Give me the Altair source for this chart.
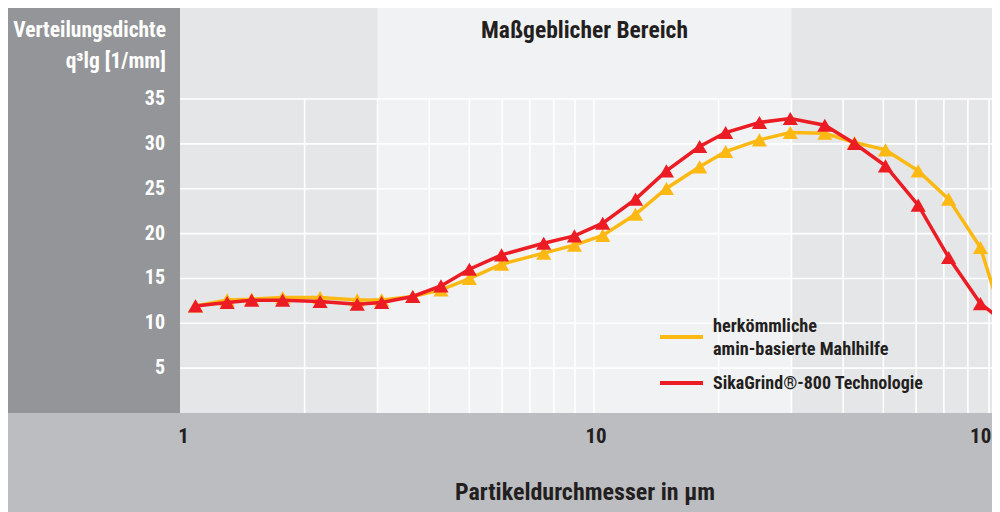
import altair as alt
import pandas as pd

# ---- data ----
particle_um = [1.09, 1.30, 1.49, 1.77, 2.18, 2.68, 3.07, 3.65, 4.27, 5.0, 5.98, 7.56, 8.97,
               10.5, 12.6, 14.96, 18.0, 20.8, 25.1, 29.8, 36.1, 42.6, 50.6, 60.7, 71.9, 85.8, 101.5]
conventional = [11.94, 12.61, 12.69, 12.88, 12.88, 12.61, 12.61, 12.99, 13.72, 14.99, 16.59, 17.82, 18.71,
                19.8, 22.16, 25.03, 27.44, 29.15, 30.45, 31.27, 31.19, 30.16, 29.33, 26.99, 23.84, 18.45, 7.7]
sikagrind = [11.94, 12.32, 12.58, 12.58, 12.43, 12.13, 12.32, 12.99, 14.17, 16.03, 17.63, 18.93, 19.74,
             21.16, 23.84, 26.99, 29.71, 31.27, 32.39, 32.83, 32.08, 30.04, 27.55, 23.17, 17.34, 12.2, 9.6]

series_names = ["herkömmliche amin-basierte Mahlhilfe", "SikaGrind®-800 Technologie"]
y_ticks = [5, 10, 15, 20, 25, 30, 35]
x_ticks = [1, 10, 100]
x_tick_labels = ["1", "10", "100"]
x_grid = [2, 3, 4, 5, 6, 7, 8, 9, 10, 20, 30, 40, 50, 60, 70, 80, 90]
band_range = [3, 30]

# ---- styling ----
FONT = "Liberation Sans Narrow, Roboto Condensed, Arial Narrow, sans-serif"
YELLOW = "#fdb913"
RED = "#ec1c24"
DARK = "#231f20"
W, H = 812, 405
BOTTOM = 99

xs = alt.Scale(type="log", domain=[1, 91.5])
ys = alt.Scale(domain=[0, 45.15])

df_conv = pd.DataFrame({"d": particle_um, "q": conventional})
df_sika = pd.DataFrame({"d": particle_um, "q": sikagrind})

one = pd.DataFrame({"k": [0]})

left_panel = alt.Chart(one).mark_rect(color="#939598").encode(
    x=alt.value(-172), x2=alt.value(0), y=alt.value(0), y2=alt.value(H))

band = alt.Chart(pd.DataFrame({"a": [band_range[0]], "b": [band_range[1]]})).mark_rect(
    color="#f1f2f4").encode(
    x=alt.X("a:Q", scale=xs, axis=None), x2="b:Q", y=alt.value(0), y2=alt.value(H))

hgrid = alt.Chart(pd.DataFrame({"g": y_ticks})).mark_rule(color="white", strokeWidth=1.6).encode(
    y=alt.Y("g:Q", scale=ys, axis=None), x=alt.value(0), x2=alt.value(W))

vgrid = alt.Chart(pd.DataFrame({"g": x_grid, "lo": [0] * len(x_grid), "hi": [35] * len(x_grid)})).mark_rule(
    color="white", strokeWidth=1.6).encode(
    x=alt.X("g:Q", scale=xs, axis=None), y=alt.Y("lo:Q", scale=ys, axis=None), y2="hi:Q")

def series(df, color):
    base = alt.Chart(df).encode(
        x=alt.X("d:Q", scale=xs, axis=None),
        y=alt.Y("q:Q", scale=ys, axis=None))
    line = base.mark_line(color=color, strokeWidth=3.5, clip=True)
    pts = base.mark_point(shape="triangle-up", filled=True, size=230, color=color, opacity=1, clip=True)
    return line + pts

conv_layer = series(df_conv, YELLOW)
sika_layer = series(df_sika, RED)

ylabels = alt.Chart(pd.DataFrame({"v": y_ticks, "t": [str(v) for v in y_ticks]})).mark_text(
    font=FONT, fontSize=20, fontWeight="bold", color="white", align="right", baseline="middle").encode(
    x=alt.value(-15), y=alt.Y("v:Q", scale=ys, axis=None), text="t:N")

def xlabel(i, dx):
    return alt.Chart(pd.DataFrame({"v": [x_ticks[i]], "t": [x_tick_labels[i]]})).mark_text(
        font=FONT, fontSize=21, fontWeight="bold", color=DARK, align="center", baseline="middle", dx=dx).encode(
        x=alt.X("v:Q", scale=xs, axis=None), y=alt.value(H + 24), text="t:N")

xl1, xl2, xl3 = xlabel(0, 3.5), xlabel(1, 2), xlabel(2, -22)

def txt(s, x, y, size, color, align="center"):
    return alt.Chart(pd.DataFrame({"t": [s]})).mark_text(
        font=FONT, fontSize=size, fontWeight="bold", color=color, align=align, baseline="middle").encode(
        x=alt.value(x), y=alt.value(y), text="t:N")

ytitle1 = txt("Verteilungsdichte", -14, 23, 21.5, "white", "right")
ytitle2 = txt("q³lg [1/mm]", -14, 54, 21.5, "white", "right")
top_title = txt("Maßgeblicher Bereich", 404.5, 23, 23.5, DARK)
xtitle = txt("Partikeldurchmesser in µm", 405, 485, 24, DARK)

leg_line1 = alt.Chart(one).mark_rule(color=YELLOW, strokeWidth=4).encode(
    x=alt.value(480), x2=alt.value(523), y=alt.value(329))
leg_line2 = alt.Chart(one).mark_rule(color=RED, strokeWidth=4).encode(
    x=alt.value(480), x2=alt.value(523), y=alt.value(375))
leg_t1 = txt("herkömmliche", 533, 319, 18.3, DARK, "left")
leg_t2 = txt("amin-basierte Mahlhilfe", 533, 342, 18.3, DARK, "left")
leg_t3 = txt("SikaGrind®-800 Technologie", 533, 376, 18, DARK, "left")

chart = alt.layer(
    left_panel, band, hgrid, vgrid, conv_layer, sika_layer,
    ylabels, xl1, xl2, xl3, ytitle1, ytitle2, top_title, xtitle,
    leg_line1, leg_line2, leg_t1, leg_t2, leg_t3,
).properties(
    width=W, height=H,
    autosize=alt.AutoSizeParams(type="none"),
    padding={"left": 172, "top": 0, "right": 0, "bottom": BOTTOM},
    background="#bcbdc0",
).configure_view(fill="#e5e6e8", stroke=None)

chart.save("out.html", embed_options={"renderer": "svg", "actions": False})
